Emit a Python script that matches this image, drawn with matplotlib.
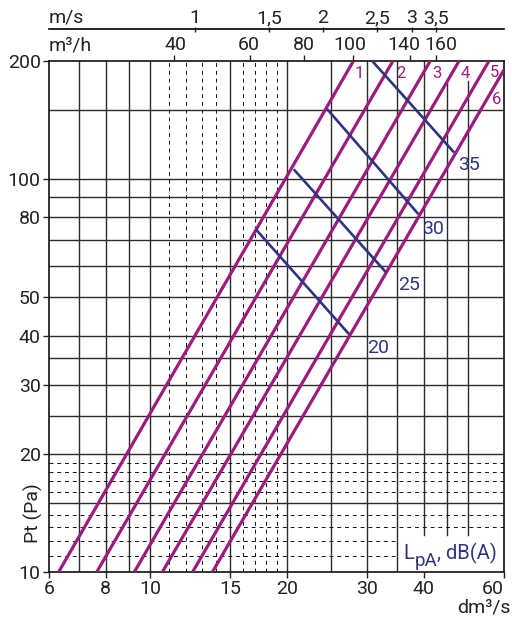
import matplotlib
matplotlib.use('Agg')
import matplotlib.pyplot as plt
from matplotlib.ticker import NullLocator

plt.rcParams['font.family'] = ['Roboto', 'DejaVu Sans']
plt.rcParams['font.size'] = 14

# fan curves: flow (dm3/s) at 10 Pa and at the top end of each line
fan_ids = ['1', '2', '3', '4', '5', '6']
fan_q_low = [6.3, 7.64, 9.24, 10.65, 12.41, 13.72]
fan_q_high = [28.0, 34.2, 41.3, 47.8, 55.6, 60.0]
fan_p_high = [200, 200, 200, 200, 200, 190]

# sound level lines LpA dB(A)
db_levels = ['20', '25', '30', '35']
db_q_start = [17.1, 20.7, 24.5, 30.8]
db_p_start = [74.5, 106, 151, 200]
db_q_end = [27.4, 33.0, 38.9, 46.6]
db_p_end = [40.3, 58.0, 81.5, 117]

# axis ticks
x_ticks = [6, 8, 10, 15, 20, 30, 40, 60]
y_ticks = [10, 20, 30, 40, 50, 80, 100, 200]
m3h_labels = ['40', '60', '80', '100', '140', '160']
m3h_pos = [11.3, 16.6, 21.8, 27.96, 37.2, 42.6]
m3h_label_pos = [11.4, 16.5, 21.8, 27.5, 36.1, 43.5]
ms_labels = ['1', '1,5', '2', '2,5', '3', '3,5']
ms_pos = [12.56, 18.3, 23.97, 31.6, 37.6, 42.6]

# grid
vgrid_solid = [7, 8, 9, 10, 15, 20, 25, 30, 35, 40]
vgrid_short = [45, 50]
vgrid_dotted = [11, 12, 13, 14, 16, 17, 18, 19]
hgrid_solid = [15, 20, 25, 30, 35, 40, 50, 60, 70, 80, 90, 100, 150]
hgrid_dotted = [13, 14, 16, 17, 18, 19]
hgrid_dotted_short = [11, 12]

MAGENTA = '#9b1b7f'
NAVY = '#2e3580'
GRID = '#2b2b2b'
TXT = '#222222'

W, H = 512, 621
fig = plt.figure(figsize=(W / 100, H / 100), dpi=100)
ax = fig.add_axes([49 / W, 1 - 572 / H, 455 / W, 511 / H])
ax.set_xscale('log')
ax.set_yscale('log')
ax.set_xlim(6, 60)
ax.set_ylim(10, 200)

dots = (0, (4, 4))
for v in vgrid_solid:
    if v == 40:
        ax.plot([v, v], [12.4, 200], color=GRID, lw=1.0, zorder=1)
    else:
        ax.axvline(v, color=GRID, lw=1.0, zorder=1)
for v in vgrid_short:
    ax.plot([v, v], [12.4, 178], color=GRID, lw=1.0, zorder=1)
for v in vgrid_dotted:
    ax.axvline(v, color='#111111', lw=0.7, ls=dots, zorder=1)
for v in hgrid_solid:
    ax.axhline(v, color=GRID, lw=1.0, zorder=1)
for v in hgrid_dotted:
    ax.axhline(v, color='#111111', lw=0.7, ls=dots, zorder=1)
for v in hgrid_dotted_short:
    ax.plot([6, 35], [v, v], color='#111111', lw=0.7, ls=dots, zorder=1)

for i in range(len(fan_ids)):
    ax.plot([fan_q_low[i], fan_q_high[i]], [10, fan_p_high[i]],
            color=MAGENTA, lw=2.3, solid_capstyle='butt', zorder=3)

for i in range(len(db_levels)):
    ax.plot([db_q_start[i], db_q_end[i]], [db_p_start[i], db_p_end[i]],
            color=NAVY, lw=1.9, solid_capstyle='butt', zorder=4)

fan_label_pos = [(28.9, 186), (35.6, 186), (42.8, 186), (49.2, 186), (57.3, 187), (57.8, 160)]
for lab, (x, y) in zip(fan_ids, fan_label_pos):
    ax.text(x, y, lab, color=MAGENTA, fontsize=12, ha='center', va='center', zorder=5)

db_label_pos = [(31.7, 37.2), (37.1, 53.8), (41.8, 74.5), (50.2, 109)]
for lab, (x, y) in zip(db_levels, db_label_pos):
    ax.text(x, y, lab, color=NAVY, fontsize=14, ha='center', va='center', zorder=5)

ax.xaxis.set_minor_locator(NullLocator())
ax.yaxis.set_minor_locator(NullLocator())
ax.set_xticks(x_ticks, [str(v) for v in x_ticks])
ax.set_yticks(y_ticks, [str(v) for v in y_ticks])
ax.tick_params(axis='both', direction='out', length=4, width=1, pad=2, labelsize=14, colors=TXT)
ax.get_xticklabels()[-1].set_horizontalalignment('right')
for s in ax.spines.values():
    s.set_linewidth(1.2)
    s.set_color('#111111')

# m3/h scale on top of the plot
axt = ax.twiny()
axt.set_xscale('log')
axt.set_xlim(6, 60)
axt.xaxis.set_minor_locator(NullLocator())
axt.set_xticks(m3h_pos, [''] * len(m3h_pos))
axt.tick_params(axis='x', direction='out', length=4.3, width=1, colors=TXT)
for s in axt.spines.values():
    s.set_visible(False)
top_y = (572 - 44.5) / 511
for lab, x in zip(m3h_labels, m3h_label_pos):
    axt.text(x, top_y, lab, transform=axt.get_xaxis_transform(),
             ha='center', va='center', fontsize=14, color=TXT)

# m/s scale
axv = fig.add_axes([49 / W, 1 - 61 / H, 455 / W, (61 - 29.3) / H])
axv.patch.set_visible(False)
axv.set_xscale('log')
axv.set_xlim(6, 60)
axv.set_yticks([])
for k, s in axv.spines.items():
    s.set_visible(k == 'top')
axv.spines['top'].set_linewidth(1.2)
axv.xaxis.set_minor_locator(NullLocator())
axv.set_xticks(ms_pos, ms_labels)
axv.tick_params(axis='x', top=True, bottom=False, labeltop=True, labelbottom=False,
                direction='inout', length=3.6, width=1, pad=-0.3, labelsize=14, colors=TXT)

fig.text(49 / W, 1 - 17 / H, 'm/s', ha='left', va='center', fontsize=14, color=TXT)
fig.text(49 / W, 1 - 45 / H, 'm³/h', ha='left', va='center', fontsize=14, color=TXT)
ax.text(-0.035, 0.115, 'Pt (Pa)', rotation=90, transform=ax.transAxes,
        ha='center', va='center', fontsize=14, color=TXT)
fig.text(511 / W, 1 - 608 / H, 'dm³/s', ha='right', va='center', fontsize=14, color=TXT)

# L_pA, dB(A) with a near full size subscript
fig.canvas.draw()
r = fig.canvas.get_renderer()
base = H - 559.3
t1 = fig.text(403 / W, base / H, 'L', color=NAVY, fontsize=14.5, va='baseline')
bb = t1.get_window_extent(r)
t2 = fig.text((bb.x1 + 0.5) / W, (base - 7) / H, 'pA', color=NAVY, fontsize=13.5, va='baseline')
bb = t2.get_window_extent(r)
fig.text(bb.x1 / W, base / H, ', dB(A)', color=NAVY, fontsize=14.5, va='baseline')

fig.savefig('out.png', dpi=100)
